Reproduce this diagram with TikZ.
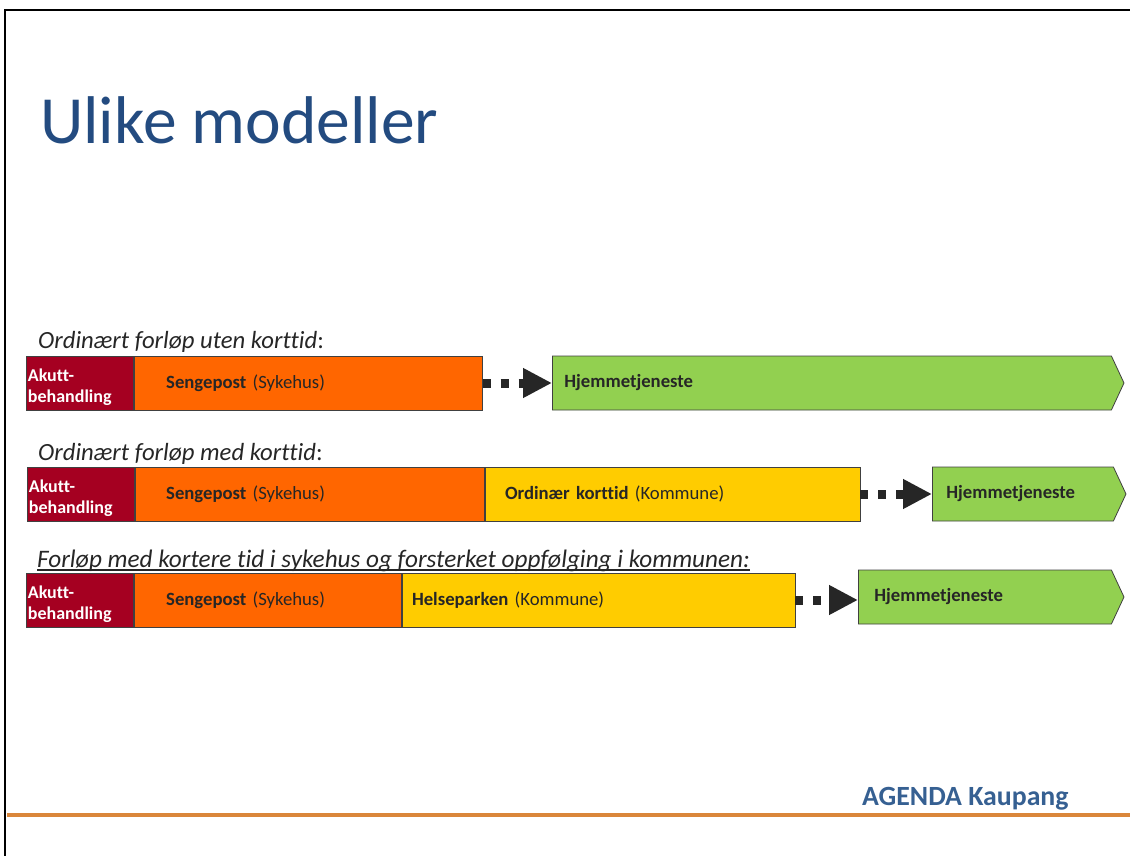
\documentclass[tikz,border=0pt]{standalone}
\usepackage{fontspec}
\setmainfont{Carlito}[Ligatures=CommonOff]
\usepackage{tikz}
\usetikzlibrary{positioning,arrows.meta,shapes.symbols}

\definecolor{akutt}{RGB}{165,0,33}
\definecolor{sykehus}{RGB}{255,102,0}
\definecolor{kommune}{RGB}{255,204,0}
\definecolor{hjem}{RGB}{146,208,80}
\definecolor{edge}{RGB}{64,64,64}
\definecolor{ink}{RGB}{38,38,38}
\definecolor{titleblue}{RGB}{35,75,128}
\definecolor{footblue}{RGB}{54,96,146}
\definecolor{rule}{RGB}{218,134,58}

\begin{document}
\begin{tikzpicture}[x=1pt,y=-1pt,
  box/.style={draw=edge,line width=0.8pt,minimum height=54pt,inner ysep=0pt,
    align=left,font=\fontsize{18.7}{21}\selectfont,text=ink},
  acute/.style={box,fill=akutt,text=white,font=\bfseries\fontsize{18}{21}\selectfont,
    text width=104pt,inner xsep=1.5pt,text height=21pt,text depth=25pt},
  home/.style={box,shape=signal,signal to=east,signal pointer angle=130,fill=hjem},
  caption/.style={anchor=base west,inner sep=0pt,font=\fontsize{24.7}{28}\selectfont,text=ink},
  dotarrow/.style={line width=9pt,ink,dash pattern=on 8pt off 10pt,
    -{Triangle[length=29pt,width=28pt]}}]

\useasboundingbox (0,0) rectangle (1130,856);

% slide frame
\draw[line width=2pt] (5,856) -- (5,10);
\draw[line width=1.5pt] (4,10) -- (1130,10);
\draw[rule,line width=4pt] (7,815) -- (1130,815);

% heading and footer
\node[anchor=base west,inner sep=0pt,font=\fontsize{67.5}{70}\selectfont,text=titleblue]
  (title) at (40,143) {Ulike modeller};
\node[anchor=base west,inner sep=0pt,font=\bfseries\fontsize{27.8}{30}\selectfont,text=footblue]
  (agenda) at (862,805) {AGENDA Kaupang};

% row 1
\node[caption] (lbl1) at (38,348) {\textit{Ordinært forløp uten korttid}:};
\node[acute,anchor=west] (akutt1) at (26,383) {Akutt-\\behandling};
\node[box,fill=sykehus,text width=284pt,inner xsep=32pt,right=0pt of akutt1]
  (seng1) {\textbf{Sengepost} (Sykehus)};
\node[home,text width=535pt,inner xsep=12pt,anchor=west] (hjem1) at (552,383)
  {\textbf{Hjemmetjeneste}};
\draw[dotarrow] (seng1.east) -- (hjem1.west);

% row 2
\node[caption] (lbl2) at (38,460) {\textit{Ordinært forløp med korttid}:};
\node[acute,anchor=west] (akutt2) at (27,494) {Akutt-\\behandling};
\node[box,fill=sykehus,text width=287pt,inner xsep=31pt,right=0pt of akutt2]
  (seng2) {\textbf{Sengepost} (Sykehus)};
\node[box,fill=kommune,text width=335pt,inner xsep=20pt,right=0pt of seng2]
  (kort2) {\textbf{Ordinær korttid} (Kommune)};
\node[home,text width=153pt,inner xsep=14pt,anchor=west] (hjem2) at (932,494)
  {\textbf{Hjemmetjeneste}};
\draw[dotarrow] (kort2.east) -- (hjem2.west);

% row 3
\node[caption,font=\fontsize{25.2}{28}\selectfont] (lbl3) at (37,567)
  {\textit{Forløp med kortere tid i sykehus og forsterket oppfølging i kommunen:}};
\draw[ink,line width=1.2pt] ([yshift=-3pt]lbl3.base west) -- ([yshift=-3pt]lbl3.base east);
\node[acute,anchor=west] (akutt3) at (26,600) {Akutt-\\behandling};
\node[box,fill=sykehus,text width=203pt,inner xsep=32pt,right=0pt of akutt3]
  (seng3) {\textbf{Sengepost} (Sykehus)};
\node[box,fill=kommune,text width=373pt,inner xsep=10pt,right=0pt of seng3]
  (helse3) {\textbf{Helseparken} (Kommune)};
\node[home,text width=221pt,inner xsep=16pt,anchor=west] (hjem3) at (858,597)
  {\textbf{Hjemmetjeneste}};
\draw[dotarrow] (helse3.east) -- (helse3.east -| hjem3.west);

\end{tikzpicture}
\end{document}
